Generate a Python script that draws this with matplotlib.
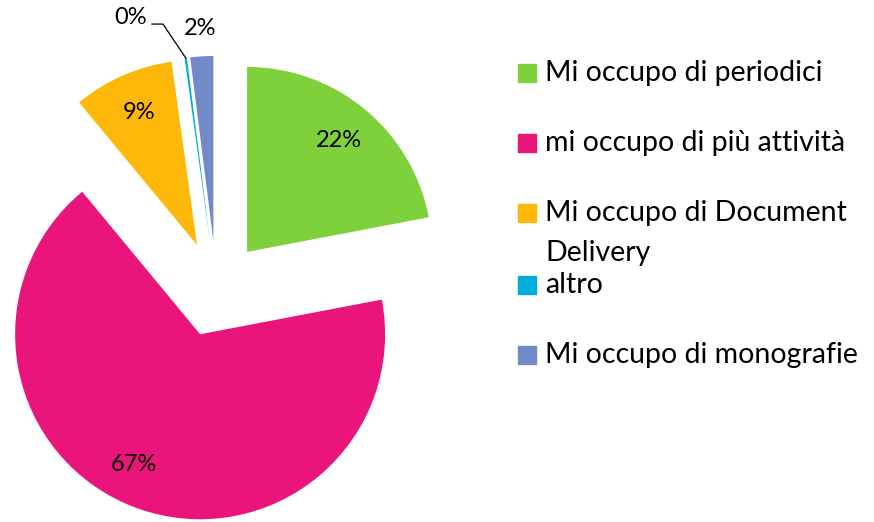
import numpy as np
import matplotlib
matplotlib.use('Agg')
import matplotlib.pyplot as plt
from matplotlib.patches import Rectangle

plt.rcParams['font.family'] = ['Lato', 'DejaVu Sans']

# Data
labels = ['Mi occupo di periodici', 'mi occupo di più attività',
          'Mi occupo di Document\nDelivery', 'altro', 'Mi occupo di monografie']
values = [22.0, 67.0, 8.8, 0.2, 2.0]
colors = ['#7FD13B', '#EA157A', '#FEB80A', '#00ADDC', '#738AC8']

W, H = 874, 522
R_PX = 185.0
CX, CY = 216.4, 289.0   # pie center in pixels (from top-left)

fig = plt.figure(figsize=(W / 100, H / 100), dpi=100)
ax = fig.add_axes([0, 0, 1, 1])

explode = [0.26] * len(values)
wedges, texts, autotexts = ax.pie(
    values, colors=colors, startangle=90, counterclock=False,
    explode=explode, autopct=lambda p: '%d%%' % round(p),
    pctdistance=0.78, textprops=dict(fontsize=17, color='black'))

ax.set_xlim(-CX / R_PX, (W - CX) / R_PX)
ax.set_ylim(-(H - CY) / R_PX, CY / R_PX)
ax.set_aspect('equal')
ax.axis('off')


def unit(deg):
    a = np.deg2rad(deg)
    return np.array([np.cos(a), np.sin(a)])


def mid(w):
    return (w.theta1 + w.theta2) / 2

# big slice label sits a bit further round, like the original
w = wedges[1]
autotexts[1].set_position(tuple(explode[1] * unit(mid(w)) + 0.79 * unit(mid(w) - 7)))

# small slices: labels outside
autotexts[4].set_position(tuple((explode[4] + 1.15) * unit(mid(wedges[4]))))

tip = (explode[3] + 1.0) * unit(mid(wedges[3]))
elbow = tip + np.array([-0.123, 0.183])
end = elbow + np.array([-0.06, 0.0])
ax.plot([tip[0], elbow[0], end[0]], [tip[1], elbow[1], end[1]],
        color='black', lw=0.9)
autotexts[3].set_position((end[0] - 0.025, end[1] + 0.035))
autotexts[3].set_ha('right')

# legend drawn manually
rows = [73, 143, 233, 285, 355]
for lab, col, y in zip(labels, colors, rows):
    sq_y = y - 20 if '\n' in lab else y
    fig.patches.append(Rectangle((518 / W, 1 - (sq_y + 9) / H), 18 / W, 18 / H,
                                 transform=fig.transFigure, color=col))
    fig.text(545 / W, 1 - y / H, lab, fontsize=20.5, va='center',
             linespacing=1.7, ha='left')

fig.savefig('out.png', dpi=100)
